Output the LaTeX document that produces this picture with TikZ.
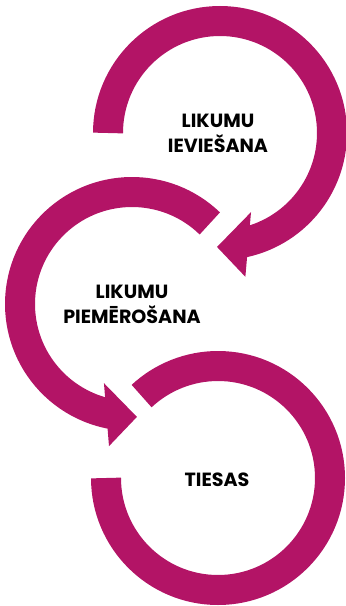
\documentclass[tikz,border=0pt]{standalone}
\usepackage{fontspec}
\setmainfont{Poppins}
\definecolor{loopred}{RGB}{179,20,102}
\def\centres{220/-133/c1, 132/-304/c2, 218/-478/c3}
\def\rings{c1/180/-80, c2/46/260, c3/180/493}
\tikzstyle{ring} = [draw=loopred, line width=0.9cm]
\tikzstyle{head} = [fill=loopred]
\tikzstyle{looptext} = [font=\bfseries\fontsize{16.3}{21.5}\selectfont, align=center, inner sep=0pt]

\begin{document}
\begin{tikzpicture}[x=0.03cm, y=0.03cm]
  \useasboundingbox (0,0) rectangle (346,-606);

  % The centres of the three loops
  \foreach \cx/\cy/\name in \centres
    \coordinate (\name) at (\cx,\cy);

  % The rings
  \foreach \name/\from/\to in \rings
    \draw[ring] ([shift={(\from:112)}]\name) arc[start angle=\from, end angle=\to, radius=112];

  % The two arrow heads
  \fill[head] ([shift={(-68.6:85)}]c1) -- ([shift={(-80:146)}]c1) -- ([shift={(-91.5:114)}]c1) -- cycle;
  \fill[head] ([shift={(250.5:84)}]c2) -- ([shift={(260.8:144)}]c2) -- ([shift={(272.5:113)}]c2) -- cycle;

  % The texts
  \node[looptext] (t1) at ([shift={(-2,0)}]c1) {LIKUMU\\IEVIEŠANA};
  \node[looptext] (t2) at (c2) {LIKUMU\\PIEMĒROŠANA};
  \node[looptext] (t3) at ([shift={(-1,-2)}]c3) {TIESAS};
\end{tikzpicture}
\end{document}
